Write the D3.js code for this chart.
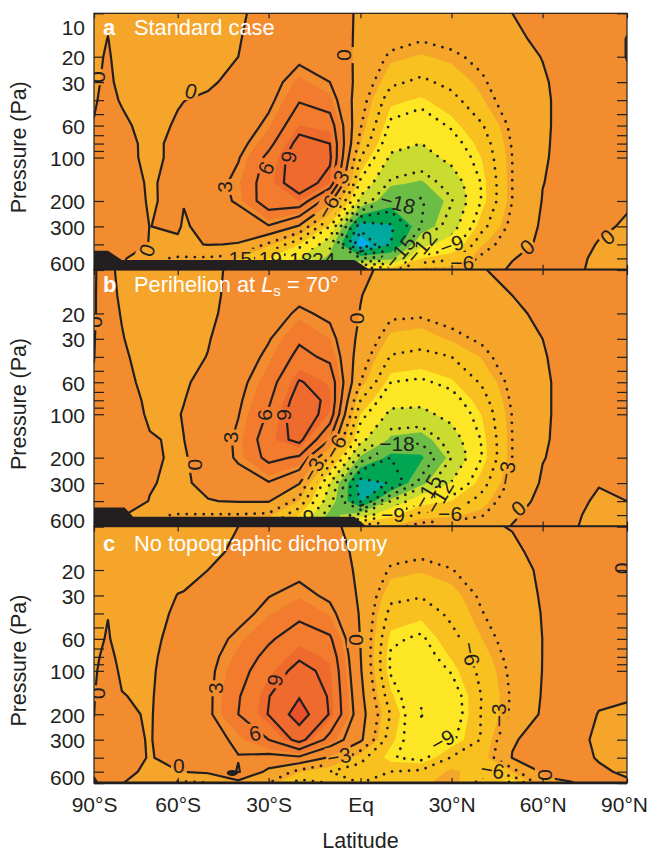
<!DOCTYPE html>
<html><head><meta charset="utf-8">
<script src="https://cdn.jsdelivr.net/npm/d3@7"></script>
<style>
html,body{margin:0;padding:0;background:#fff;overflow:hidden}
text{font-family:"Liberation Sans",Arial,sans-serif;fill:#231f20}
</style></head><body>
<div id="chart"></div>
<script>
const latitudes = [-90,-85,-80,-70,-60,-58,-50,-40,-30,-20,-10,0,10,20,30,40,50,60,70,80,90];
const pressures = [10,15,20,30,40,60,80,100,150,200,300,400,500,600];
const latTicks = [-90,-60,-30,0,30,60,90];
const latTickLabels = ["90°S","60°S","30°S","Eq","30°N","60°N","90°N"];
const pressureTicks = [10,20,30,40,50,60,70,80,90,100,200,300,400,500,600];
const pressureLabels = [10,20,30,60,100,200,300,600];
const fillLevels = [-28,-24,-20,-16,-12,-8,-4,0,4,8,12];
const fillColours = ["#00aeef","#00a99d","#00a651","#6cbd45","#c9dc2f","#fde725","#f8c120","#f5a52a","#f38c2f","#f27b2e","#ee6a2d","#e8512a"];
const solidLevels = [0,3,6,9,12];
const dottedLevels = [-3,-6,-9,-12,-15,-18,-21,-24,-27];

// Each row: one latitude, values at the 14 pressure levels
const fieldA = [
[-1,-.8,-.6,-.4,-.2,.1,.3,.4,.5,.5,.5,.5,.5,.5],
[-.5,.05,.3,.5,.6,.7,.8,.8,.9,.9,.9,.9,.8,.8],
[-1.5,-1.3,-1.1,-.7,-.2,.5,.8,1,1.2,1.2,1,.8,.5,0],
[-1.8,-1.6,-1.5,-1.3,-1.1,-.9,-.6,-.7,-.3,-.2,-.02,-.05,-2.5,-3],
[-1.5,-1.3,-1,-.7,-.2,.3,.6,.7,.8,.5,.3,-.4,-3.3,-4],
[-1.4,-1.2,-.9,-.6,-.02,.3,.7,.8,.8,.1,-.25,-.4,-3.3,-4],
[-1,-.8,-.6,-.2,.2,.5,1,1.2,1.5,1.5,.7,.1,-3.3,-4],
[-.2,-.1,0,.4,.7,1.2,2,2.8,3.8,3.4,1,-.1,-4,-6],
[.5,.8,1,1.7,2.3,3.7,5.2,6.7,7.5,7.7,2.8,-3.5,-8,-12],
[1.2,1.6,2.3,4.5,5.8,8,10,10.8,10.5,8,-.3,-8,-12,-14],
[1,1.5,2,3,4.5,7.5,9,9.5,8,1,-9,-14,-17,-20],
[-.3,-.5,-.7,-1,-1.8,-2.8,-4,-6,-9.5,-13,-26,-30,-18,-8],
[-.5,-2,-3.5,-5.5,-7.5,-9.5,-11,-12.5,-15.5,-18.5,-24.5,-24,-17,-6],
[-1,-2.8,-4.2,-6.5,-8.3,-10.4,-12,-13.5,-16.3,-18.3,-18,-13,-8,-3],
[-.8,-2.2,-3.5,-5.3,-6.8,-8.7,-10,-11,-14,-15.2,-13.5,-10.5,-6.5,-3],
[-.6,-1.6,-2.3,-3.4,-4.2,-6.2,-7.3,-7.9,-8.8,-8.8,-6.8,-4.2,-2.5,-1],
[0,-.3,-.6,-1,-1.5,-2.4,-2.8,-3,-3,-3,-2.2,-1.5,-.1,.3],
[.7,.3,.05,-.2,-.3,-.3,-.25,-.2,-.05,.1,.4,.7,.8,.9],
[1,1,.9,.7,.7,.7,.7,.7,.7,.7,.7,.7,.6,.6],
[1,1,1,1,.9,.9,.9,.9,.8,.6,.3,-.1,-.4,-.6],
[.5,-.05,-.05,.3,.4,.5,.5,.5,.4,.2,-.2,-.5,-.7,-.8]
];
const fieldB = [
[-.1,-.1,-.1,-.05,-.02,.1,.2,.3,.4,.4,.4,.4,.4,.4],
[.5,.6,.6,.7,.7,.8,.8,.8,.8,.8,.8,.8,.5,.5],
[-.5,-.3,-.1,.1,.3,.5,.7,.8,.9,.9,.9,.8,.3,.3],
[-1.4,-1.3,-1.2,-1,-.8,-.5,-.3,-.2,.1,.2,.1,-.05,-2.5,-3],
[-.9,-.9,-.8,-.7,-.6,-.4,-.25,-.1,-.15,-.2,-.3,-.4,-3.2,-4],
[-.8,-.8,-.7,-.6,-.5,-.2,-.05,.1,-.02,-.2,-.3,-.4,-3.2,-4],
[-.3,-.3,-.3,-.1,.05,.5,.9,1,1.1,1,.6,-.1,-3.2,-4],
[.3,.4,.6,1,1.4,2.2,2.6,2.9,3.5,3.4,1.7,.2,-3.2,-4],
[.3,1,1.5,2.8,3.6,4.8,5.6,6.3,7.5,6.8,2.8,.2,-3.5,-5],
[.8,2.2,3.5,5.6,6.8,9.2,10.4,11,9.8,5.6,.2,-4,-8,-12],
[.6,1.7,2.4,4,5.4,7.8,8.4,7.8,3,-3.5,-12,-14,-17,-20],
[.3,.1,-.1,-.8,-1.6,-3,-6,-8,-11,-16.5,-25.5,-24.5,-14,-5],
[-.4,-1.6,-2.5,-4.5,-6.2,-9,-11,-12.7,-16.6,-21,-23.8,-15,-9,-4],
[-.6,-1.8,-2.6,-5,-6.7,-9.4,-11.2,-12.8,-17.3,-20.5,-17,-9.4,-5,-2],
[-.2,-1.3,-2,-3.7,-6,-8.3,-10,-11,-13.6,-15,-11.8,-8,-4.5,-1.5],
[-.1,-.6,-1.2,-2.6,-3.8,-5.7,-7,-7.9,-8.8,-9,-7,-5,-3.2,-1.5],
[.5,0,-.4,-1,-1.5,-2.2,-2.6,-2.9,-3,-3,-2.2,-1,-.3,.1],
[1,.8,.4,0,-.2,-.4,-.4,-.4,-.3,-.1,.3,.6,.8,1],
[1.2,1.2,1.1,1,1,.9,.9,.9,.9,.8,.7,.6,.4,.3],
[1.2,1.1,1.1,1,1,.9,.9,.8,.6,.4,.1,-.3,-.6,-.8],
[1,1,1,.9,.9,.8,.8,.7,.6,.4,.2,0,-.3,-.5]
];
const fieldC = [
[-.8,-.7,-.6,-.5,-.4,-.3,-.2,-.15,-.05,-.01,.2,.3,.1,-.1],
[-.5,-.5,-.4,-.3,-.03,.1,.3,.5,.7,.8,.9,.6,.05,.3],
[-1,-.9,-.8,-.7,-.6,-.5,-.3,-.2,.05,.3,.5,.7,.4,.1],
[-1.5,-1.4,-1.3,-1.1,-.9,-.6,-.4,-.3,-.2,-.15,-.1,-.1,-.3,-1.5],
[-2,-1.4,-.7,.05,.4,.8,1,1.1,1.2,1.2,1,.5,-.05,-3.5],
[-1.8,-1.2,-.5,.1,.5,.9,1.1,1.2,1.3,1.3,1.1,.6,.05,-3.5],
[-1,-.5,0,.9,1.3,1.8,2.2,2.4,2.5,2.5,2,1.5,.5,-3.2],
[0,.4,.8,1.6,2.1,3.6,4.4,5,5.8,6,3.5,2.9,3.2,-1],
[.7,1.5,2,2.9,3.8,5.6,6.8,7.6,8.9,9.1,6,2.2,-.7,-3],
[.9,1.7,2.3,3.8,5.3,7.5,8.7,9.8,11.8,13.5,10,2.5,-3.8,-7],
[.3,.9,1.5,2.5,3.8,6.4,7.7,8.3,8.7,8.8,5,-.3,-6,-6],
[-.5,-.5,-.5,-.4,-.25,-.1,.1,.3,.9,1.3,.6,-5.3,-7,-6],
[-.8,-2.2,-3.3,-5.3,-6.8,-8.6,-9.3,-9.3,-7.6,-6.2,-7.5,-8.8,-6,-5],
[-1,-2.5,-3.8,-5.8,-7.5,-9.4,-10.2,-10.8,-11.8,-12.1,-11,-9.8,-5.5,-4.5],
[-.7,-2,-3.1,-4.7,-5.4,-6.8,-7.8,-8.8,-10.5,-10.8,-9.5,-5.8,-3.6,-3],
[-.3,-1,-1.6,-2.6,-3.1,-4,-4.8,-5.3,-5.9,-5.8,-5.8,-5,-5,-7],
[.1,-.4,-.7,-1.1,-1.4,-1.9,-2.2,-2.5,-2.7,-2.6,-.2,.1,-4,-10],
[.9,.6,.3,.2,.1,.02,.03,.05,.2,.4,.8,1,.4,-.5],
[1.2,1.2,1.1,1,1,.9,.9,.8,.7,.7,.6,.5,.3,-.05],
[1,1,.9,.9,.8,.7,.6,.5,.2,-.05,-.3,-.1,.2,.3],
[.5,.2,-.05,.2,.3,.3,.3,.3,.1,-.2,-.3,-.3,-.2,.2]
];
// Surface (hidden by black), latitude → surface pressure
const surfaceLatA = [-90,-85,-80,-2,3];
const surfacePressA = [443,443,513,513,600];
const surfaceLatB = [-90,-79,-76,-2,2];
const surfacePressB = [443,443,513,513,600];
const surfaceLatC = [-90,90];
const surfacePressC = [585,585];
// Small black blob in panel c: latitude, pressure
const blobC = [[-42,510]];
// Contour labels: text, latitude, pressure, rotation
const labelsA = [["0",-88.2,27.7,90],["0",-55.6,34.6,15],["0",-5.1,19.5,90],["3",-44.7,160,-90],["6",-30.9,118,-65],["9",-23.5,99,-80],["3",-6.4,136,-60],["−6",-10.7,220,-60],["−18",12.3,206,15],["−15",13,451,-50],["−12",20,417,-50],["−9",30,403,-20],["−6",33.5,530,0],["0",54.9,417,-40],["0",83,355,-40],["0",-71,438,-70],["15",-39.4,503,0],["19",-29.5,503,0],["18",-19.5,510,0],["24",-12,510,0]];
const labelsB = [["0",-89.3,23,90],["3",-42.7,145,-90],["6",-31.5,101,-90],["9",-25.3,101,-90],["0",-54.6,224,-90],["−3",-15.6,242,-60],["−6",-8.3,168,-60],["0",-1,21.6,90],["−18",12,160,0],["−15",22,344,-60],["−12",26,372,-60],["−9",10.7,497,0],["−6",29.5,489,0],["−3",48,256,-80],["0",52,448,-40],["9",-17,510,0]];
const labelsC = [["0",-88.5,143,90],["3",-47.7,132,-90],["9",-28,116,-80],["6",-34.5,270,-10],["0",-59.6,451,0],["0",-1.2,61,90],["−3",-7,390,-10],["−6",36.4,76,80],["−9",27,303,-30],["−3",45.3,203,-90],["−6",43.5,487,10],["0",60.8,527,-90],["0",88.4,19.5,90]];

const panelsData = [
 {id:"a",title:"Standard case",field:fieldA,top:13.3,labels:labelsA,sLat:surfaceLatA,sP:surfacePressA,titleDy:21.7,blobs:[]},
 {id:"b",title:null,field:fieldB,top:270,labels:labelsB,sLat:surfaceLatB,sP:surfacePressB,titleDy:21.7,blobs:[]},
 {id:"c",title:"No topographic dichotomy",field:fieldC,top:526.6,labels:labelsC,sLat:surfaceLatC,sP:surfacePressC,titleDy:24,blobs:blobC}
];
const W=648,H=853,panelH=256.5,ink="#231f20";
const x=d3.scaleLinear().domain(latTicks).range([94,177.7,268.6,360.5,451.6,542.6,627]);
const svg=d3.select("#chart").append("svg").attr("width",W).attr("height",H).style("display","block");
const defs=svg.append("defs");
const nx=latitudes.length,ny=pressures.length;

panelsData.forEach(P=>{
  const y=d3.scaleLog().domain([10,600]).range([P.top,P.top+panelH]);
  const xi=d3.scaleLinear().domain(d3.range(nx)).range(latitudes.map(x));
  const yi=d3.scaleLinear().domain(d3.range(ny)).range(pressures.map(y));
  const path=d3.geoPath(d3.geoTransform({point(a,b){this.stream.point(xi(a-.5),yi(b-.5));}}));
  const values=[];
  for(let j=0;j<ny;j++)for(let i=0;i<nx;i++)values.push(P.field[i][j]);
  const contour=t=>d3.contours().size([nx,ny]).thresholds([t])(values)[0];
  const clipId="clip-"+P.id,maskId="mask-"+P.id;
  defs.append("clipPath").attr("id",clipId).append("rect").attr("x",94).attr("y",P.top).attr("width",533).attr("height",panelH);
  const g=svg.append("g");
  const plot=g.append("g").attr("clip-path",`url(#${clipId})`);
  plot.append("rect").attr("x",94).attr("y",P.top).attr("width",533).attr("height",panelH).attr("fill",fillColours[0]);
  plot.selectAll("path.band").data(fillLevels).enter().append("path").attr("class","band")
    .attr("d",t=>path(contour(t))).attr("fill",(t,i)=>fillColours[i+1]);
  const mask=defs.append("mask").attr("id",maskId).attr("maskUnits","userSpaceOnUse")
    .attr("x",0).attr("y",0).attr("width",W).attr("height",H);
  mask.append("rect").attr("width",W).attr("height",H).attr("fill","#fff");
  P.labels.forEach(l=>{
    const w=(l[0].replace("−","").length*12)+(l[0][0]==="−"?14:4);
    mask.append("rect").attr("x",-w/2).attr("y",-10).attr("width",w).attr("height",20).attr("fill","#000")
      .attr("transform",`translate(${x(l[1])},${y(l[2])}) rotate(${l[3]})`);
  });
  const lines=plot.append("g").attr("mask",`url(#${maskId})`).attr("fill","none");
  lines.selectAll("path.solid").data(solidLevels).enter().append("path").attr("class","solid")
    .attr("d",t=>path(contour(t))).attr("stroke",ink).attr("stroke-width",2.2).attr("stroke-linejoin","miter");
  lines.selectAll("path.dot").data(dottedLevels).enter().append("path").attr("class","dot")
    .attr("d",t=>path(contour(t))).attr("stroke",ink).attr("stroke-width",2.8)
    .attr("stroke-linecap","round").attr("stroke-dasharray","0 8.5");
  plot.selectAll("text.clabel").data(P.labels).enter().append("text").attr("class","clabel")
    .attr("transform",l=>`translate(${x(l[1])},${y(l[2])}) rotate(${l[3]})`)
    .attr("text-anchor","middle").attr("dy","0.36em").attr("font-size",21).text(l=>l[0]);
  plot.selectAll("ellipse.blob").data(P.blobs).enter().append("ellipse").attr("class","blob")
    .attr("cx",d=>x(d[0])).attr("cy",d=>y(d[1])).attr("rx",5.5).attr("ry",3).attr("fill",ink);
  const area=d3.area().x(d=>x(d[0])).y0(P.top+panelH+2).y1(d=>y(d[1]));
  plot.append("path").attr("d",area(P.sLat.map((v,i)=>[v,P.sP[i]]))).attr("fill",ink);
  g.append("rect").attr("x",94).attr("y",P.top).attr("width",533).attr("height",panelH).attr("fill","none").attr("stroke",ink).attr("stroke-width",1.2);
  g.append("line").attr("x1",94).attr("x2",627).attr("y1",P.top+panelH).attr("y2",P.top+panelH).attr("stroke",ink).attr("stroke-width",2.4);
  const left=d3.axisLeft(y).tickValues(pressureTicks).tickSize(-10).tickPadding(9).tickFormat(d=>pressureLabels.includes(d)&&!(P.id!=="a"&&d===10)?d:"");
  const gl=g.append("g").attr("transform","translate(94,0)").call(left);
  gl.select(".domain").remove();
  gl.selectAll("line").attr("stroke",ink).attr("stroke-width",1.2);
  gl.selectAll("text").attr("font-size",21).attr("font-family",'"Liberation Sans"').attr("fill",ink)
    .attr("dy",d=>d===10?"1.0em":d===600?"0.05em":"0.38em");
  const right=d3.axisRight(y).tickValues(pressureTicks).tickSize(-10).tickFormat("");
  const gr=g.append("g").attr("transform","translate(627,0)").call(right);
  gr.select(".domain").remove();
  gr.selectAll("line").attr("stroke",ink).attr("stroke-width",1.2);
  const xb=d3.axisBottom(x).tickValues(latTicks).tickSize(-5).tickFormat("");
  const gb=g.append("g").attr("transform",`translate(0,${P.top+panelH})`).call(xb);
  gb.select(".domain").remove(); gb.selectAll("line").attr("stroke",ink).attr("stroke-width",1.2);
  const xt=d3.axisTop(x).tickValues(latTicks).tickSize(-5).tickFormat("");
  const gt=g.append("g").attr("transform",`translate(0,${P.top})`).call(xt);
  gt.select(".domain").remove(); gt.selectAll("line").attr("stroke",ink).attr("stroke-width",1.2);
  const ty=P.top+P.titleDy;
  g.append("text").attr("x",103).attr("y",ty).attr("font-size",22).attr("font-weight","bold").style("fill","#fff").text(P.id);
  const t=g.append("text").attr("x",134).attr("y",ty).attr("font-size",21.8).style("fill","#fff");
  if(P.title) t.text(P.title);
  else {
    t.append("tspan").text("Perihelion at ");
    t.append("tspan").attr("font-style","italic").text("L");
    t.append("tspan").attr("font-size",15).attr("dy",4).text("s");
    t.append("tspan").attr("dy",-4).text(" = 70°");
  }
  g.append("text").attr("transform",`translate(26,${P.top+134}) rotate(-90)`).attr("text-anchor","middle").attr("font-size",21.4).text("Pressure (Pa)");
  if(P.id==="c"){
    const xa=d3.axisBottom(x).tickValues(latTicks).tickSize(0).tickPadding(14).tickFormat((d,i)=>latTickLabels[i]);
    const gx=g.append("g").attr("transform",`translate(0,${P.top+panelH})`).call(xa);
    gx.select(".domain").remove();
    gx.selectAll("text").attr("font-size",21).attr("font-family",'"Liberation Sans"').attr("fill",ink)
      .attr("dx",d=>d===90?-3:0);
    g.append("text").attr("x",360.5).attr("y",848).attr("text-anchor","middle").attr("font-size",21.5).text("Latitude");
  }
});
</script></body></html>
